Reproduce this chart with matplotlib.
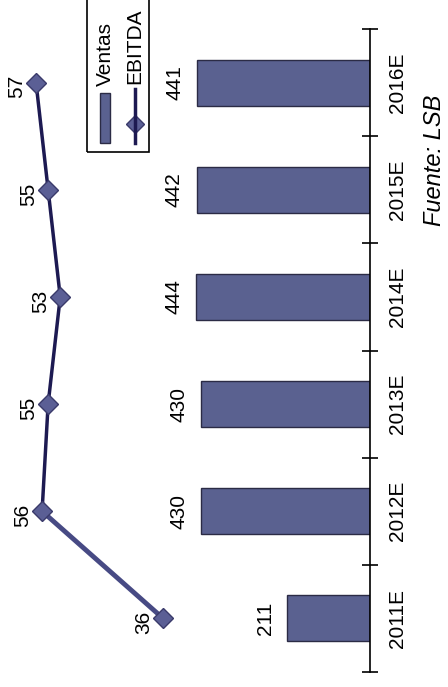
import matplotlib
matplotlib.use("Agg")
from matplotlib import pyplot as plt
from matplotlib.patches import Rectangle
from matplotlib.lines import Line2D

plt.rcParams['font.family'] = ['Liberation Sans', 'DejaVu Sans']

years = ["2011E", "2012E", "2013E", "2014E", "2015E", "2016E"]
ventas = [211, 430, 430, 444, 442, 441]
ebitda = [36, 56, 55, 53, 55, 57]

bar_color = "#5a6190"
line_color = "#1d1a52"
W, H = 448, 687

fig = plt.figure(figsize=(W / 100, H / 100), dpi=100)
# chart is laid out turned on its side: categories run bottom -> top
ax = fig.add_axes([10 / W, 1 - 672 / H, 360 / W, 643 / H])
pos = list(range(len(years)))

ax.barh(pos, ventas, height=0.43, color=bar_color, edgecolor="#2b2b45", linewidth=1)
ax.set_xlim(918, 0)
ax.set_ylim(-0.5, len(years) - 0.5)
for s in ["left", "top", "bottom"]:
    ax.spines[s].set_visible(False)
ax.spines["right"].set_linewidth(1.2)
ax.set_xticks([])
ax.yaxis.tick_right()
ax.set_yticks(pos)
ax.set_yticklabels(years, rotation=90, va="center", fontsize=15)
ax.tick_params(axis="y", which="major", length=0, pad=13)
ax.set_yticks([p - 0.5 for p in pos] + [len(years) - 0.5], minor=True)
ax.tick_params(axis="y", which="minor", length=12, direction="inout", width=1.2)

for i, v in enumerate(ventas):
    ax.annotate(str(v), (v, i), xytext=(-16, 0), textcoords="offset points",
                rotation=90, ha="center", va="center", fontsize=15)

# EBITDA on its own scale
ax2 = ax.twiny()
ax2.set_xlim(61.3, 1.82)
ax2.set_ylim(-0.5, len(years) - 0.5)
ax2.axis("off")
ax2.plot(ebitda[:2], pos[:2], color="#474a84", lw=3.5, zorder=2)
ax2.plot(ebitda[1:], pos[1:], color=line_color, lw=2.5, zorder=2)
ax2.plot(ebitda, pos, ls="none", marker="D", ms=10, mfc="#5b5f95", mec="#3a3a6a", zorder=3)
for i, v in enumerate(ebitda):
    ax2.annotate(str(v), (v, i), xytext=(-14, -3), textcoords="offset points",
                 rotation=90, ha="center", va="center", fontsize=15)

# legend, drawn by hand so it can be turned with the rest
fig.add_artist(Rectangle((87 / W, 1 - 152 / H), 62 / W, 0.3, transform=fig.transFigure,
                         fill=False, edgecolor="black", lw=1.2, clip_on=False))
fig.add_artist(Rectangle((100 / W, 1 - 143 / H), 10 / W, 50 / H, transform=fig.transFigure,
                         facecolor=bar_color, edgecolor="#2b2b45", lw=1))
fig.text(105 / W, 1 - 86 / H, "Ventas", rotation=90, ha="center", va="bottom", fontsize=15)
fig.add_artist(Line2D([135 / W, 135 / W], [1 - 143 / H, 1 - 89 / H], transform=fig.transFigure,
                      color=line_color, lw=2.5, zorder=3))
fig.add_artist(Line2D([135 / W], [1 - 124 / H], transform=fig.transFigure, ls="none",
                      marker="D", ms=9, mfc="#5b5f95", mec="#3a3a6a"))
fig.text(135 / W, 1 - 84 / H, "EBITDA", rotation=90, ha="center", va="bottom", fontsize=15)

fig.text(434 / W, 1 - 160 / H, "Fuente: LSB", rotation=90, ha="center", va="center",
         fontsize=17, style="italic")

fig.savefig("out.png", dpi=100)
